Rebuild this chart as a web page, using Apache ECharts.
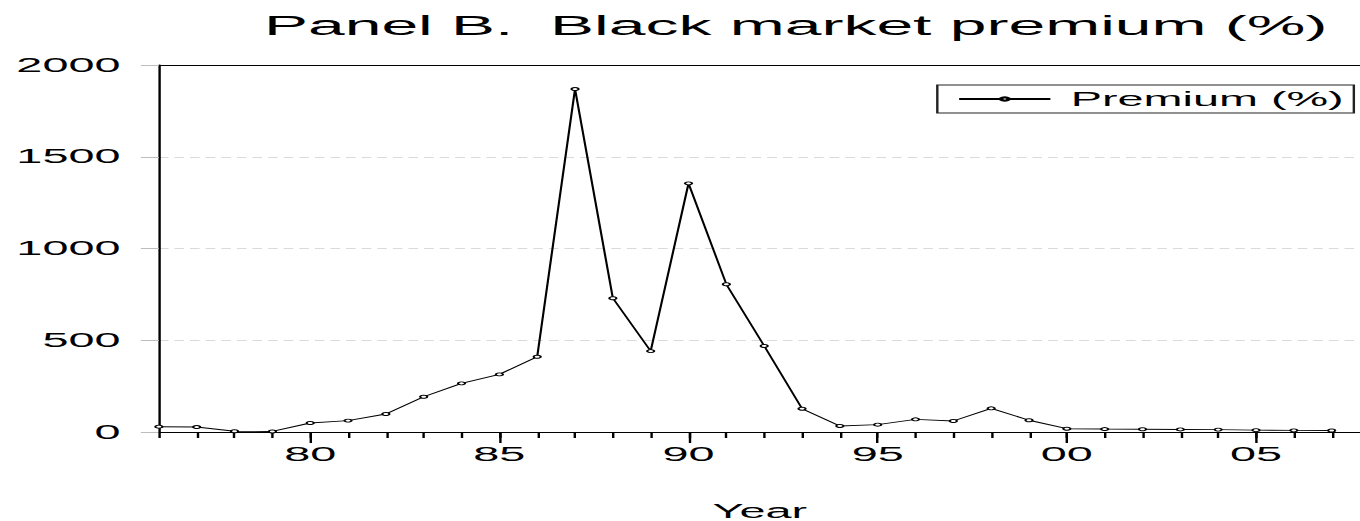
<!DOCTYPE html>
<html>
<head>
<meta charset="utf-8">
<script src="https://cdn.jsdelivr.net/npm/echarts@6/dist/echarts.min.js"></script>
<style>
  html, body { margin: 0; padding: 0; background: #fff; overflow: hidden; }
  /* the reference is a chart stretched sideways, so draw it narrow and stretch it */
  #chart {
    width: 566.667px;
    height: 521px;
    transform: scaleX(2.4);
    transform-origin: 0 0;
  }
</style>
</head>
<body>
<div id="chart"></div>
<script>
// data
var years = [1976, 1977, 1978, 1979, 1980, 1981, 1982, 1983, 1984, 1985, 1986,
             1987, 1988, 1989, 1990, 1991, 1992, 1993, 1994, 1995, 1996, 1997,
             1998, 1999, 2000, 2001, 2002, 2003, 2004, 2005, 2006, 2007];
var premium = [29, 27, 4, 3, 49, 62, 98, 192, 265, 314, 410,
               1869, 729, 441, 1355, 805, 469, 127, 33, 40, 69, 60,
               129, 64, 18, 16, 15, 14, 13, 10, 9, 8];
var labelYears = [1980, 1985, 1990, 1995, 2000, 2005];
var yTicks = [0, 500, 1000, 1500, 2000];

var font = 'Liberation Sans, Arial, sans-serif';
var xMin = 1976, xMax = 2007.77;

var chart = echarts.init(document.getElementById('chart'), null, { renderer: 'svg' });

var points = [];
for (var i = 0; i < years.length; i++) {
  points.push([years[i], premium[i]]);
}

var option = {
  animation: false,
  backgroundColor: '#fff',
  title: {
    text: 'Panel B.  Black market premium (%)',
    left: 110,
    top: 11,
    padding: 0,
    textStyle: { fontFamily: font, fontSize: 27.5, fontWeight: 'normal', color: '#000' }
  },
  legend: {
    right: 2.9,
    top: 85,
    padding: [4, 4.2, 4, 8.1],
    borderColor: '#222',
    borderWidth: 1,
    itemWidth: 38,
    itemHeight: 4,
    textStyle: { fontFamily: font, fontSize: 19.5, color: '#000', padding: [0, 0, 0, 3.5] },
    data: ['Premium (%)']
  },
  grid: { left: 66.2, right: 0, top: 65, bottom: 89, outerBoundsMode: 'none' },
  xAxis: [
    {
      type: 'value',
      position: 'bottom',
      min: xMin,
      max: xMax,
      name: 'Year',
      nameLocation: 'middle',
      nameGap: 69,
      nameTextStyle: { fontFamily: font, fontSize: 19.5, color: '#000' },
      axisLine: { lineStyle: { color: '#000', width: 1 } },
      axisTick: { customValues: years, length: 6, lineStyle: { color: '#000', width: 1 } },
      axisLabel: {
        customValues: labelYears,
        margin: 12,
        fontFamily: font,
        fontSize: 19.5,
        color: '#000',
        formatter: function (v) { return String(v % 100).padStart(2, '0'); }
      },
      splitLine: { show: false }
    },
    {
      // longer ticks for the labelled years
      type: 'value',
      position: 'bottom',
      min: xMin,
      max: xMax,
      axisLine: { show: false },
      axisTick: { customValues: labelYears, length: 11, lineStyle: { color: '#000', width: 1 } },
      axisLabel: { show: false },
      splitLine: { show: false }
    },
    {
      // top frame line
      type: 'value',
      position: 'top',
      min: xMin,
      max: xMax,
      axisLine: { lineStyle: { color: '#000', width: 1 } },
      axisTick: { show: false },
      axisLabel: { show: false },
      splitLine: { show: false }
    }
  ],
  yAxis: {
    type: 'value',
    min: 0,
    max: 2000,
    interval: 500,
    axisLine: { show: true, lineStyle: { color: '#000', width: 1 } },
    axisTick: { show: true, length: 7.5, lineStyle: { color: '#bdbdbd', width: 1 } },
    axisLabel: {
      customValues: yTicks,
      margin: 16,
      fontFamily: font,
      fontSize: 19.5,
      color: '#000',
      padding: [0, 0, 7, 0],
      formatter: function (v) { return String(v); }
    },
    splitLine: { show: true, lineStyle: { color: '#dadada', width: 1, type: [4, 2.5] } }
  },
  series: [
    {
      name: 'Premium (%)',
      type: 'line',
      xAxisIndex: 0,
      data: points,
      symbol: 'circle',
      symbolSize: 3,
      showAllSymbol: true,
      lineStyle: { color: '#000', width: 0.9 },
      itemStyle: { color: '#fff', borderColor: '#000', borderWidth: 0.9 }
    }
  ]
};

chart.setOption(option);
</script>
</body>
</html>
